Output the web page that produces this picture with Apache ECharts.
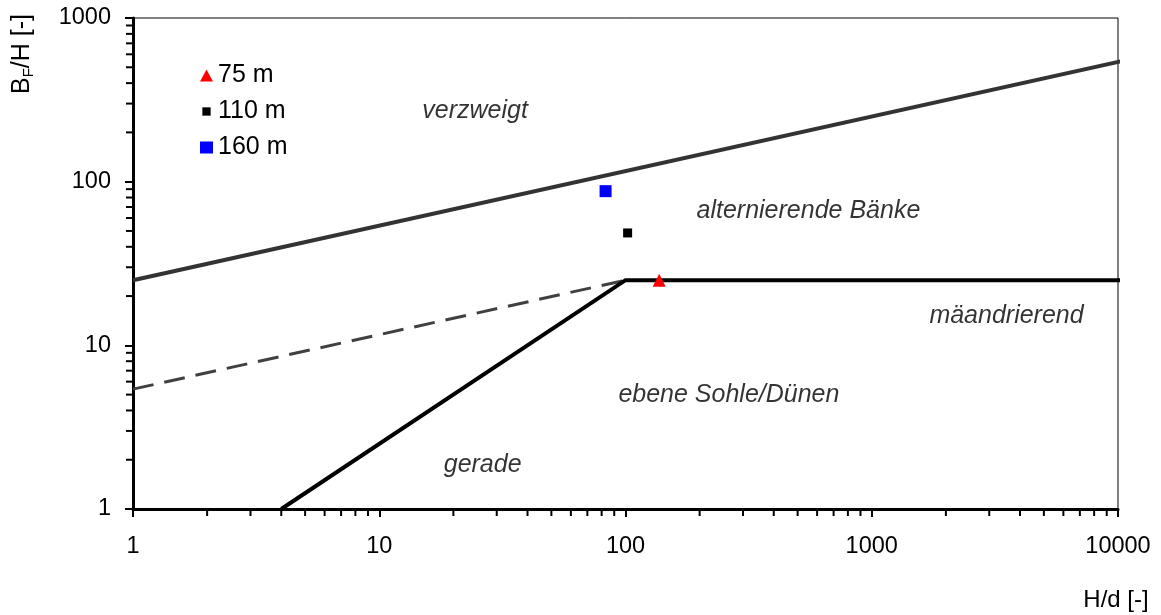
<!DOCTYPE html>
<html>
<head>
<meta charset="utf-8">
<style>
  html, body { margin: 0; padding: 0; background: #fff; }
  #chart { width: 1161px; height: 615px; }
</style>
<script src="https://cdn.jsdelivr.net/npm/echarts@6/dist/echarts.min.js"></script>
</head>
<body>
<div id="chart"></div>
<script>
// ---- data ----
const xTicks = [1, 10, 100, 1000, 10000];
const yTicks = [1, 10, 100, 1000];
const xTickLabels = ['1', '10', '100', '1000', '10000'];
const yTickLabels = ['1', '10', '100', '1000'];

const upperBoundary = [[1, 25], [10600, 549]];
const dashedBoundary = [[1, 5.4], [100, 25]];
const lowerBoundary = [[4, 1], [100, 25], [10600, 25]];

const seriesNames = ['75 m', '110 m', '160 m'];
const points75 = [[137, 25]];
const points110 = [[102, 48.6]];
const points160 = [[83, 87.5]];

const regionNames = ['verzweigt', 'alternierende Bänke', 'mäandrierend', 'ebene Sohle/Dünen', 'gerade'];
const regionX = [24.5, 553, 3526, 263, 26.3];
const regionY = [270, 66.2, 15.1, 4.97, 1.86];

const minorMultipliers = [2, 3, 4, 5, 6, 7, 8, 9];
const xMinorTicks = [];
xTicks.slice(0, -1).forEach(d => minorMultipliers.forEach(m => xMinorTicks.push([m * d, 1])));
const yMinorTicks = [];
yTicks.slice(0, -1).forEach(d => minorMultipliers.forEach(m => yMinorTicks.push([1, m * d])));

// ---- chart ----
const FONT = 'Liberation Sans, Arial, sans-serif';
const chart = echarts.init(document.getElementById('chart'), null, { renderer: 'canvas' });

function tickLabel(ticks, labels) {
  return v => {
    const i = ticks.findIndex(t => Math.abs(t - v) / t < 1e-6);
    return i >= 0 ? labels[i] : '';
  };
}

function minorTickRenderer(dx, dy) {
  return (params, api) => {
    const p = api.coord([api.value(0), api.value(1)]);
    return {
      type: 'line',
      shape: { x1: p[0], y1: p[1], x2: p[0] + dx, y2: p[1] + dy },
      style: { stroke: '#000', lineWidth: 2 }
    };
  };
}

const option = {
  animation: false,
  backgroundColor: '#fff',
  textStyle: { fontFamily: FONT },
  grid: {
    left: 133, right: 43, top: 18, bottom: 106,
    show: true, borderColor: '#000', borderWidth: 1, backgroundColor: 'transparent'
  },
  legend: {
    orient: 'vertical',
    left: 195, top: 58,
    itemGap: 11,
    itemWidth: 13, itemHeight: 12,
    textStyle: { fontSize: 25, color: '#000', fontFamily: FONT },
    data: [
      { name: seriesNames[0], icon: 'triangle' },
      { name: seriesNames[1], icon: 'path://M0,0M2,2h9v9h-9zM13,13' },
      { name: seriesNames[2], icon: 'rect' }
    ],
    selectedMode: false
  },
  xAxis: {
    type: 'log', logBase: 10, min: 1, max: 10000,
    axisLine: { show: true, lineStyle: { color: '#000', width: 3 } },
    axisTick: { show: true, length: 8, lineStyle: { color: '#000', width: 2 } },
    splitLine: { show: false },
    minorTick: { show: false },
    axisLabel: { fontSize: 23.5, color: '#000', margin: 26, fontFamily: FONT, formatter: tickLabel(xTicks, xTickLabels) }
  },
  yAxis: {
    type: 'log', logBase: 10, min: 1, max: 1000,
    axisLine: { show: true, lineStyle: { color: '#000', width: 3 } },
    axisTick: { show: true, length: 8, lineStyle: { color: '#000', width: 2 } },
    splitLine: { show: false },
    minorTick: { show: false },
    axisLabel: { fontSize: 23.5, color: '#000', margin: 22, fontFamily: FONT, formatter: tickLabel(yTicks, yTickLabels) }
  },
  graphic: [
    {
      type: 'text', x: 22, y: 54, rotation: Math.PI / 2, silent: true,
      style: {
        text: '{b|B}{s|F}{b|/H [-]}',
        align: 'center', verticalAlign: 'middle',
        fill: '#000', font: '25px ' + FONT,
        rich: {
          b: { fontSize: 25, fontFamily: FONT, fill: '#000', lineHeight: 28 },
          s: { fontSize: 15, fontFamily: FONT, fill: '#000', lineHeight: 28, verticalAlign: 'bottom', padding: [9, 0, 0, 0] }
        }
      }
    },
    {
      type: 'text', x: 1116, y: 600, silent: true,
      style: { text: 'H/d [-]', align: 'center', verticalAlign: 'middle', fill: '#000', font: '24px ' + FONT }
    }
  ],
  series: [
    {
      name: 'upper', type: 'line', data: upperBoundary, clip: false, silent: true,
      symbol: 'none', lineStyle: { color: '#333', width: 4 }, z: 3
    },
    {
      name: 'dashed', type: 'line', data: dashedBoundary, clip: false, silent: true,
      symbol: 'none', lineStyle: { color: '#404040', width: 3, type: [21, 11] }, z: 3
    },
    {
      name: 'lower', type: 'line', data: lowerBoundary, clip: false, silent: true,
      symbol: 'none', lineStyle: { color: '#000', width: 4, join: 'miter' }, z: 3
    },
    {
      name: seriesNames[0], type: 'scatter', data: points75, symbol: 'triangle', symbolSize: 13,
      itemStyle: { color: '#ff0000', opacity: 1 }, z: 5, silent: true
    },
    {
      name: seriesNames[1], type: 'scatter', data: points110, symbol: 'rect', symbolSize: 9,
      itemStyle: { color: '#000000', opacity: 1 }, z: 5, silent: true
    },
    {
      name: seriesNames[2], type: 'scatter', data: points160, symbol: 'rect', symbolSize: 12,
      itemStyle: { color: '#0000ff', opacity: 1 }, z: 5, silent: true
    },
    {
      name: 'regions', type: 'scatter', silent: true, symbolSize: 1,
      itemStyle: { color: 'rgba(0,0,0,0)' },
      data: regionNames.map((n, i) => ({ name: n, value: [regionX[i], regionY[i]] })),
      label: {
        show: true, position: 'inside', formatter: p => p.name,
        fontSize: 25, fontStyle: 'italic', color: '#000', fontFamily: FONT
      },
      z: 4
    },
    {
      name: 'xMinor', type: 'custom', data: xMinorTicks, clip: false, silent: true,
      renderItem: minorTickRenderer(0, 7), z: 6
    },
    {
      name: 'yMinor', type: 'custom', data: yMinorTicks, clip: false, silent: true,
      renderItem: minorTickRenderer(-7, 0), z: 6
    }
  ]
};

chart.setOption(option);
</script>
</body>
</html>
